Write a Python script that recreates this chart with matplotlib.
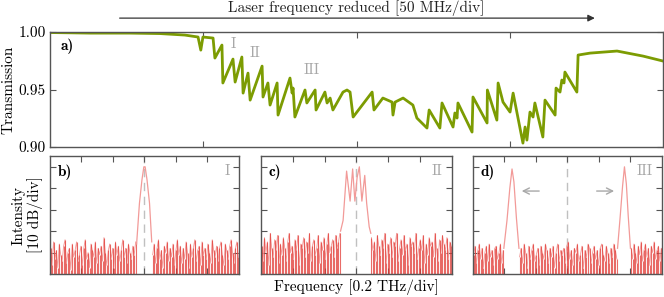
import matplotlib
matplotlib.use("Agg")

import matplotlib.pyplot as plt
import numpy as np


# --- transmission trace (x in MHz, 50 MHz/div) ---
TRANS_F = [0, 13.1, 26.1, 35.9, 44.0, 48.3, 49.2, 49.9, 53.2, 53.8, 56.1, 56.4, 59.7, 60.4,
           62.6, 63.0, 64.6, 65.3, 69.2, 69.5, 71.1, 71.8, 74.1, 74.4, 78.3, 79.0, 79.3, 79.9,
           83.2, 83.8, 86.5, 86.8, 89.7, 90.4, 91.4, 92.3, 95.6, 96.9, 97.9, 98.9, 105.1, 105.7,
           108.6, 111.6, 111.9, 112.6, 115.2, 118.4, 119.7, 123.0, 123.7, 127.2, 127.9, 131.5,
           132.1, 132.8, 133.1, 137.7, 138.0, 142.6, 142.7, 145.8, 146.2, 147.8, 150.1, 151.1,
           154.3, 155.0, 155.6, 156.6, 157.6, 158.2, 160.8, 161.5, 164.8, 165.1, 166.4, 167.0,
           167.7, 168.0, 171.9, 172.3, 176.2, 185.0, 193.5, 200.0]
TRANS_T = [0.9996, 0.9991, 0.9991, 0.9987, 0.9974, 0.9957, 0.9843, 0.9957, 0.9948, 0.9774,
           0.9887, 0.9557, 0.9765, 0.9565, 0.9783, 0.9469, 0.9643, 0.9408, 0.9704, 0.9435,
           0.9557, 0.9365, 0.9557, 0.9278, 0.9600, 0.9469, 0.9513, 0.9261, 0.9496, 0.9383,
           0.9496, 0.9322, 0.9478, 0.9383, 0.9426, 0.9322, 0.9478, 0.9496, 0.9478, 0.9261,
           0.9478, 0.9322, 0.9426, 0.9391, 0.9278, 0.9391, 0.9426, 0.9365, 0.9252, 0.9165,
           0.9322, 0.9165, 0.9383, 0.9174, 0.9296, 0.9252, 0.9383, 0.9130, 0.9435, 0.9209,
           0.9496, 0.9234, 0.9557, 0.9391, 0.9304, 0.9469, 0.9034, 0.9174, 0.9060, 0.9304,
           0.9261, 0.9383, 0.9087, 0.9408, 0.9278, 0.9513, 0.9478, 0.9583, 0.9557, 0.9652,
           0.9478, 0.9800, 0.9817, 0.9835, 0.9791, 0.9748]
MARKS = [("I", 59.7, 0.9896), ("II", 66.9, 0.9817), ("III", 85.5, 0.967)]

# --- spectra (x in div of 0.2 THz, y in dB above floor) ---
NOISE_B_L = [12, 4, 15, 7, 11, 3, 14, 9, 6, 13, 16, 5, 10, 12, 2, 14, 8, 11, 15, 6, 9, 13, 4, 12,
             16, 7, 10, 3, 14, 11, 8, 15, 5, 12, 9, 13, 6, 17, 10, 4, 11, 14, 7, 12, 3, 15, 9, 13,
             6, 11, 16, 8, 12, 5, 14, 10, 7, 13, 9, 15]
NOISE_B_R = [9, 14, 5, 12, 16, 7, 11, 3, 13, 10, 15, 6, 12, 8, 14, 4, 11, 16, 9, 13, 5, 12, 7, 15,
             10, 3, 14, 8, 12, 16, 6, 11, 13, 4, 15, 9, 12, 7, 14, 10, 5, 16, 11, 8, 13, 6, 12, 15,
             9, 4, 14, 11, 7, 13, 16, 10, 5, 12, 15, 8]
PEAK_B_X = [2.75, 2.84, 2.92, 2.98, 3.02, 3.08, 3.16, 3.23]
PEAK_B_Y = [14, 33, 44, 50, 50, 44, 33, 15]

NOISE_C_L = [13, 6, 17, 10, 15, 4, 19, 12, 8, 16, 11, 18, 5, 14, 9, 17, 12, 6, 15, 19, 10, 13, 7,
             16, 11, 18, 4, 14, 12, 17, 8, 15, 10, 19, 6, 13, 16, 9, 12, 18, 5, 15, 11, 17, 7, 14,
             19, 10, 13, 16, 8, 18, 12, 15, 19]
NOISE_C_R = [17, 11, 15, 6, 18, 13, 9, 16, 12, 19, 5, 14, 10, 17, 8, 15, 13, 19, 6, 12, 16, 9, 18,
             11, 14, 4, 17, 13, 15, 10, 19, 7, 12, 16, 11, 18, 5, 14, 9, 17, 13, 15, 8, 19, 12, 6,
             16, 10, 18, 14, 11, 17, 7, 15, 13]
PEAK_C_X = [2.50, 2.58, 2.69, 2.80, 2.88, 2.95, 3.02, 3.09, 3.17, 3.26, 3.32, 3.40, 3.45]
PEAK_C_Y = [20, 25, 48, 34, 49, 34, 45, 50, 34, 46, 33, 22, 19]

NOISE_D_L = [9, 13, 5, 11, 14, 7, 12, 3, 10, 13, 6, 14, 8, 11, 4, 12, 13, 7, 10, 14, 5, 11]
NOISE_D_M = [8, 12, 5, 14, 10, 3, 13, 7, 11, 14, 6, 9, 12, 4, 13, 10, 7, 14, 11, 5, 12, 8, 13,
             3, 10, 14, 6, 11, 9, 12, 5, 13, 15, 7, 11, 4, 12, 10, 14, 6, 9, 13, 3, 11, 8, 14, 12,
             5, 10, 13, 7, 11, 4, 12, 14, 9, 6, 13, 10, 5, 12, 8, 14, 11, 7]
NOISE_D_R = [12, 7, 14, 10, 5, 13, 9, 15, 6, 11, 14, 8, 12, 4, 13, 10, 15, 7, 11, 13, 6, 12]
PEAK_D1_X = [0.98, 1.08, 1.17, 1.24, 1.30, 1.38, 1.46]
PEAK_D1_Y = [12, 25, 40, 49, 43, 26, 12]
PEAK_D2_X = [4.59, 4.67, 4.75, 4.81, 4.87, 4.93, 5.00]
PEAK_D2_Y = [12, 26, 41, 50, 42, 27, 12]
ARROW_Y = 38.7

OLIVE = "#7c9c02"
RED = "#e23b36"
PINK = "#f29a98"
GREY = "#a8a8a8"
EDGE = "#555555"

plt.rcParams["font.family"] = ["cmr10", "DejaVu Serif"]
plt.rcParams["mathtext.fontset"] = "cm"
plt.rcParams["axes.formatter.use_mathtext"] = True
plt.rcParams["font.size"] = 11


def style_axes(ax):
    for s in ax.spines.values():
        s.set_color(EDGE)
        s.set_linewidth(1.0)
    ax.tick_params(direction="in", top=True, right=True, length=4, width=0.8,
                   color=EDGE, labelsize=11, pad=3)


def draw_noise(ax, lo, hi, vals):
    x = np.linspace(lo, hi, len(vals))
    ax.plot(x, vals, color=PINK, linewidth=0.6)
    ax.vlines(x, 0, vals, color=RED, linewidth=0.8, alpha=0.75)


def spectrum_axes(fig, rect, label, roman):
    ax = fig.add_axes(rect)
    ax.set_xlim(0, 6)
    ax.set_ylim(0, 55)
    ax.set_xticks(range(1, 6))
    ax.set_yticks([10, 20, 30, 40, 50])
    ax.set_xticklabels([])
    ax.set_yticklabels([])
    style_axes(ax)
    ax.axvline(3, color="#c0c0c0", linestyle=(0, (6, 4)), linewidth=1.0, zorder=0)
    ax.text(0.04, 0.93, label, transform=ax.transAxes, ha="left", va="top",
            family=["cmb10", "DejaVu Serif"], fontsize=11)
    ax.text(0.95, 0.93, roman, transform=ax.transAxes, ha="right", va="top",
            color=GREY, fontsize=11)
    return ax


fig = plt.figure(figsize=(6.64, 2.97), dpi=100)

# transmission panel
ax = fig.add_axes([0.0753, 0.505, 0.9232, 0.387])
ax.plot(TRANS_F, TRANS_T, color=OLIVE, linewidth=2.0)
ax.set_xlim(0, 200)
ax.set_ylim(0.90, 1.00)
ax.set_xticks([50, 100, 150])
ax.set_xticklabels([])
ax.set_yticks([0.90, 0.95, 1.00])
ax.set_yticklabels(["0.90", "0.95", "1.00"])
style_axes(ax)
ax.set_ylabel("Transmission", labelpad=2)
ax.text(0.018, 0.94, "a)", transform=ax.transAxes, ha="left", va="top",
        family=["cmb10", "DejaVu Serif"], fontsize=11)
for txt, xm, ym in MARKS:
    ax.text(xm, ym, txt, ha="center", va="center", color=GREY, fontsize=11)

fig.patches.append(matplotlib.patches.FancyArrowPatch(
    (0.176, 0.939), (0.900, 0.939), transform=fig.transFigure, arrowstyle="-|>",
    mutation_scale=10, color="#333333", linewidth=0.9))
fig.text(0.537, 0.972, "Laser frequency reduced [50 MHz/div]", ha="center", va="center",
         fontsize=11, color="#222222")

# spectra
axb = spectrum_axes(fig, [0.0753, 0.0774, 0.2846, 0.397], "b)", "I")
draw_noise(axb, 0.02, 2.72, NOISE_B_L)
draw_noise(axb, 3.26, 5.98, NOISE_B_R)
axb.plot(PEAK_B_X, PEAK_B_Y, color=PINK, linewidth=0.9)
axb.set_ylabel("Intensity\n[10 dB/div]", labelpad=2, linespacing=1.15)

axc = spectrum_axes(fig, [0.393, 0.0774, 0.2877, 0.397], "c)", "II")
draw_noise(axc, 0.02, 2.48, NOISE_C_L)
draw_noise(axc, 3.47, 5.98, NOISE_C_R)
axc.plot(PEAK_C_X, PEAK_C_Y, color=PINK, linewidth=0.9)
axc.set_xlabel("Frequency [0.2 THz/div]", labelpad=1)

axd = spectrum_axes(fig, [0.7123, 0.0774, 0.2846, 0.397], "d)", "III")
draw_noise(axd, 0.02, 0.96, NOISE_D_L)
draw_noise(axd, 1.48, 4.57, NOISE_D_M)
draw_noise(axd, 5.02, 5.98, NOISE_D_R)
axd.plot(PEAK_D1_X, PEAK_D1_Y, color=PINK, linewidth=0.9)
axd.plot(PEAK_D2_X, PEAK_D2_Y, color=PINK, linewidth=0.9)
axd.annotate("", xy=(1.46, ARROW_Y), xytext=(2.19, ARROW_Y),
             arrowprops=dict(arrowstyle="->", color=GREY, linewidth=1.0))
axd.annotate("", xy=(4.57, ARROW_Y), xytext=(3.84, ARROW_Y),
             arrowprops=dict(arrowstyle="->", color=GREY, linewidth=1.0))

fig.savefig("out.png", dpi=100)
